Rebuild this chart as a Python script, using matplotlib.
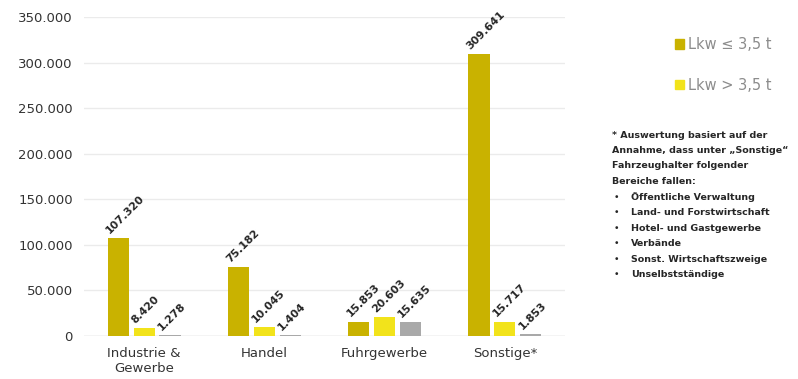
import matplotlib.pyplot as plt
import numpy as np
from matplotlib.patches import Patch

categories = ["Industrie &\nGewerbe", "Handel", "Fuhrgewerbe", "Sonstige*"]
lkw_small = [107320, 75182, 15853, 309641]
lkw_large = [8420, 10045, 20603, 15717]
other = [1278, 1404, 15635, 1853]
series_names = ["Lkw ≤ 3,5 t", "Lkw > 3,5 t"]
yticks = [0, 50000, 100000, 150000, 200000, 250000, 300000, 350000]
note_lines = ["* Auswertung basiert auf der",
              "Annahme, dass unter \u201eSonstige\u201c",
              "Fahrzeughalter folgender",
              "Bereiche fallen:"]
bullets = ["Öffentliche Verwaltung", "Land- und Forstwirtschaft",
           "Hotel- und Gastgewerbe", "Verbände",
           "Sonst. Wirtschaftszweige", "Unselbstständige"]

colors = ["#C9B200", "#F2E31B", "#A9A9A9"]

def fmt(v):
    return f"{v:,}".replace(",", ".")

fig = plt.figure(figsize=(7.98, 3.79), dpi=100)
W, H = 798, 379
ax = fig.add_axes([84 / W, 43 / H, (565 - 84) / W, (336 - 17) / H])

x = np.arange(len(categories))
bw = 0.175
step = 0.215
for i, (vals, c) in enumerate(zip([lkw_small, lkw_large, other], colors)):
    xs = x + (i - 1) * step
    ax.bar(xs, vals, width=bw, color=c, zorder=3)
    for xi, v in zip(xs, vals):
        ax.annotate(fmt(v), (xi, v), xytext=(-5, 2), textcoords="offset points",
                    rotation=45, ha="left", va="bottom", fontsize=7.8,
                    fontweight="bold", color="#262626", rotation_mode="anchor")

ax.set_xlim(-0.5, 3.5)
ax.set_ylim(0, 350000)
ax.set_yticks(yticks)
ax.set_yticklabels([fmt(t) for t in yticks], fontsize=9.5, color="#333333")
ax.set_xticks(x)
ax.set_xticklabels(categories, fontsize=9.5, color="#333333")
ax.tick_params(length=0, pad=8)
ax.tick_params(axis="x", pad=8)
ax.grid(axis="y", color="#EBEBEB", linewidth=1, zorder=0)
for s in ax.spines.values():
    s.set_visible(False)
ax.axhline(0, color="#D9D9D9", linewidth=1, zorder=2)

handles = [Patch(color=colors[0]), Patch(color=colors[1])]
leg = fig.legend(handles, series_names, loc="upper left",
                 bbox_to_anchor=(662 / W, 1 - 24 / H), frameon=False,
                 fontsize=10.5, labelcolor="#8C8C8C", handlelength=0.6,
                 handleheight=0.6, handletextpad=0.3, labelspacing=1.75)

y0 = 135
dy = 15.5
for k, line in enumerate(note_lines):
    fig.text(612 / W, 1 - (y0 + k * dy) / H, line, fontsize=6.8,
             color="#262626", va="center", ha="left", fontweight="bold")
for k, b in enumerate(bullets):
    yy = 1 - (y0 + (len(note_lines) + k) * dy) / H
    fig.text(614 / W, yy, "•", fontsize=6.8, color="#262626", va="center")
    fig.text(631 / W, yy, b, fontsize=6.8, color="#262626", va="center",
             fontweight="bold")

fig.savefig("out.png", dpi=100)
